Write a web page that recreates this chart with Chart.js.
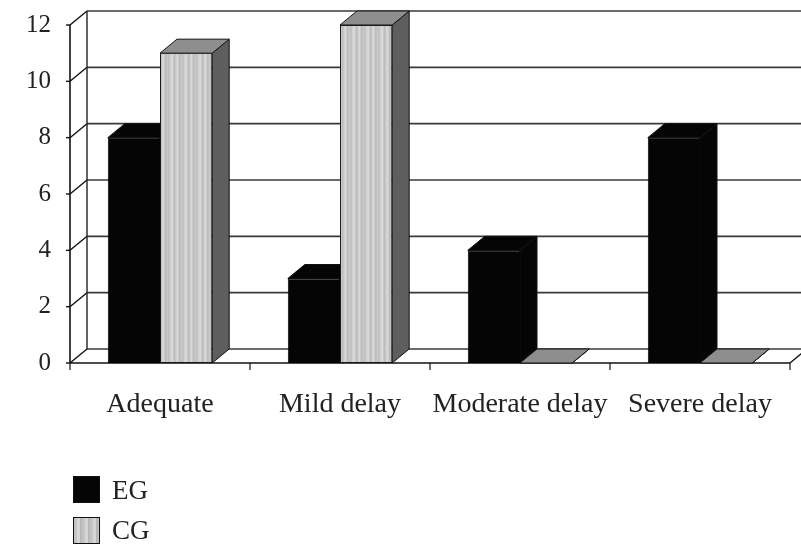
<!DOCTYPE html>
<html>
<head>
<meta charset="utf-8">
<script src="https://cdn.jsdelivr.net/npm/chart.js@4/dist/chart.umd.min.js"></script>
<style>
  html, body { margin: 0; padding: 0; background: #fff; }
  #wrap { position: relative; width: 801px; height: 545px; }
  #chart { position: absolute; left: 0; top: 0; }
  .key { position: absolute; left: 73px; width: 27px; height: 27px; box-sizing: border-box; border: 1.5px solid #111; }
  .key.eg { top: 476px; background: #050505; }
  .key.cg { top: 517px; background: repeating-linear-gradient(90deg, #c4c4c4 0 3px, #d6d6d6 3px 6px, #b8b8b8 6px 8px); }
  .lbl { position: absolute; left: 112px; font: 27px "Liberation Serif", serif; color: #222; line-height: 27px; }
</style>
</head>
<body>
<div id="wrap">
  <canvas id="chart" width="801" height="545"></canvas>
  <div class="key eg"></div><div class="lbl" style="top:477px">EG</div>
  <div class="key cg"></div><div class="lbl" style="top:517px">CG</div>
</div>
<script>
// Development categories and the counts for each group
const categories = ['Adequate', 'Mild delay', 'Moderate delay', 'Severe delay'];
const egValues = [8, 3, 4, 8];
const cgValues = [11, 12, 0, 0];
const yMin = 0, yMax = 12, yStep = 2;

// Depth of the pseudo-3D box (pixels to the right and up)
const DX = 17, DY = -14;

// Vertical stripe fill for the CG columns
function stripePattern() {
  const c = document.createElement('canvas');
  c.width = 14; c.height = 4;
  const g = c.getContext('2d');
  const cols = ['#c2c2c2', '#c2c2c2', '#d4d4d4', '#d4d4d4', '#dadada', '#c8c8c8', '#bcbcbc',
                '#c6c6c6', '#d2d2d2', '#d8d8d8', '#cccccc', '#bdbdbd', '#c0c0c0', '#cacaca'];
  cols.forEach((col, i) => { g.fillStyle = col; g.fillRect(i, 0, 1, 4); });
  return g.createPattern(c, 'repeat');
}

function poly(ctx, pts, fill, stroke) {
  ctx.beginPath();
  ctx.moveTo(pts[0][0], pts[0][1]);
  for (let i = 1; i < pts.length; i++) ctx.lineTo(pts[i][0], pts[i][1]);
  ctx.closePath();
  ctx.fillStyle = fill;
  ctx.fill();
  ctx.lineWidth = 1;
  ctx.strokeStyle = stroke;
  ctx.stroke();
}

function line(ctx, x1, y1, x2, y2, color, w) {
  ctx.beginPath();
  ctx.moveTo(x1, y1);
  ctx.lineTo(x2, y2);
  ctx.strokeStyle = color;
  ctx.lineWidth = w;
  ctx.stroke();
}

// Draws the walls, floor and the depth faces of every column
const box3d = {
  id: 'box3d',
  beforeDatasetsDraw(chart) {
    const ctx = chart.ctx;
    const ys = chart.scales.y, xs = chart.scales.x;
    const L = xs.getPixelForValue(-0.5);
    const R = xs.getPixelForValue(categories.length - 0.5);
    const base = ys.getPixelForValue(yMin);
    const top = ys.getPixelForValue(yMax);
    ctx.save();
    ctx.lineCap = 'butt';

    // back wall grid lines and left wall diagonals
    ys.ticks.forEach(t => {
      const py = ys.getPixelForValue(t.value);
      line(ctx, L + DX, py + DY, chart.width, py + DY, '#3a3a3a', 1.6);
      line(ctx, L, py, L + DX, py + DY, '#111', 1.4);
      line(ctx, L - 4, py, L, py, '#111', 1.4);
    });
    // back wall left edge
    line(ctx, L + DX, top + DY, L + DX, base + DY, '#222', 1.4);
    // front vertical axis
    line(ctx, L, top, L, base, '#111', 1.6);
    // floor front edge and right edge
    line(ctx, L, base, R, base, '#111', 1.6);
    line(ctx, R, base, R + DX, base + DY, '#111', 1.4);
    // category separators below the floor
    for (let i = 0; i <= categories.length; i++) {
      const px = xs.getPixelForValue(i - 0.5);
      line(ctx, px, base, px, base + 7, '#111', 1.2);
    }

    // depth faces: tops and right sides
    chart.data.datasets.forEach((ds, di) => {
      const meta = chart.getDatasetMeta(di);
      meta.data.forEach(el => {
        const p = el.getProps(['x', 'y', 'base', 'width'], true);
        const l = p.x - p.width / 2, r = p.x + p.width / 2;
        const t = p.y, b = p.base;
        poly(ctx, [[r, t], [r + DX, t + DY], [r + DX, b + DY], [r, b]], ds.sideColor, '#111');
        poly(ctx, [[l, t], [r, t], [r + DX, t + DY], [l + DX, t + DY]], ds.topColor, '#111');
      });
    });
    ctx.restore();
  }
};

const chart = new Chart(document.getElementById('chart'), {
  type: 'bar',
  data: {
    labels: categories,
    datasets: [
      {
        label: 'EG', data: egValues,
        backgroundColor: '#050505', borderColor: '#050505', borderWidth: 1,
        topColor: '#050505', sideColor: '#050505', clip: false
      },
      {
        label: 'CG', data: cgValues,
        backgroundColor: stripePattern(), borderColor: '#1a1a1a', borderWidth: 1,
        topColor: '#8e8e8e', sideColor: '#5e5e5e', clip: false
      }
    ]
  },
  options: {
    responsive: false,
    animation: false,
    layout: { padding: { top: 25, right: 11, left: 0, bottom: 0 } },
    datasets: { bar: { categoryPercentage: 0.58, barPercentage: 1.0, borderSkipped: false } },
    plugins: { legend: { display: false }, tooltip: { enabled: false } },
    scales: {
      x: {
        grid: { display: false, drawTicks: false },
        border: { display: false },
        ticks: {
          color: '#222', padding: 25, maxRotation: 0, minRotation: 0, autoSkip: false,
          font: { family: 'Liberation Serif', size: 28 }
        },
        afterFit(s) { s.height = 182; s.paddingLeft = 0; s.paddingRight = 0; }
      },
      y: {
        min: yMin, max: yMax,
        grid: { display: false, drawTicks: false },
        border: { display: false },
        ticks: { stepSize: yStep, color: '#222', padding: 19, font: { family: 'Liberation Serif', size: 25 } },
        afterFit(s) { s.width = 70; s.paddingTop = 0; s.paddingBottom = 0; }
      }
    }
  },
  plugins: [box3d]
});
</script>
</body>
</html>
